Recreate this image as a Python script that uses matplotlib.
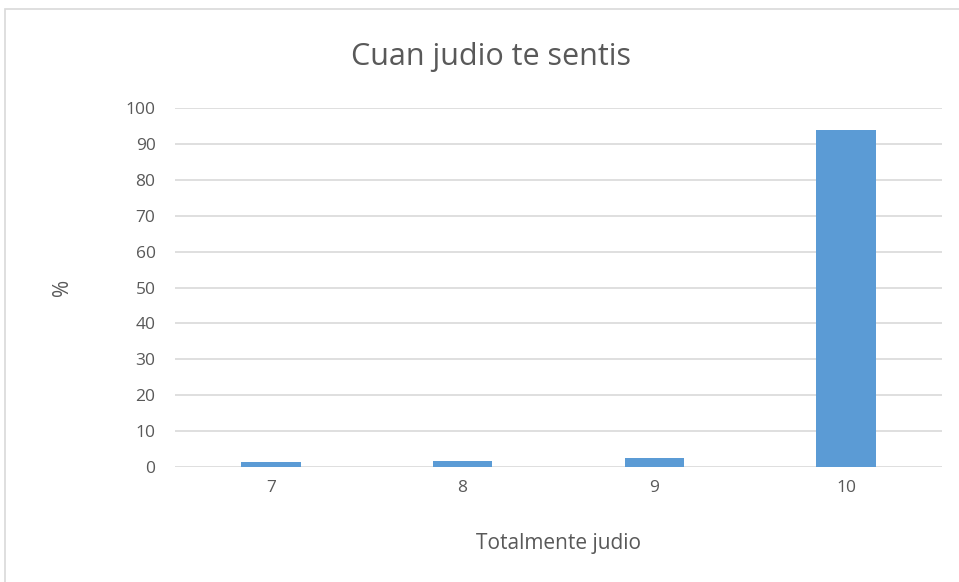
import matplotlib

matplotlib.use("Agg")
import matplotlib.pyplot as plt
from matplotlib.patches import Rectangle

categories = ["7", "8", "9", "10"]
percentages = [1.3, 1.7, 2.4, 94.0]
y_ticks = list(range(0, 101, 10))

plt.rcParams["font.family"] = ["Open Sans", "DejaVu Sans"]

fig = plt.figure(figsize=(9.59, 5.82), dpi=100)
W, H = 959, 582

# outer chart frame (cut off at the right and bottom like the screenshot)
fig.patches.append(
    Rectangle((5 / W, -0.1), 1.2, 1 - 9 / H + 0.1, transform=fig.transFigure,
              facecolor="none", edgecolor="#d9d9d9", linewidth=1.2)
)

ax = fig.add_axes([175 / W, 1 - 467 / H, (942 - 175) / W, (467 - 108) / H])
x = range(len(categories))
ax.bar(x, percentages, width=0.31, color="#5b9bd5", zorder=3)

ax.set_xlim(-0.5, len(categories) - 0.5)
ax.set_ylim(0, 100)
ax.set_yticks(y_ticks)
ax.set_xticks(list(x))
ax.set_xticklabels(categories)
ax.tick_params(axis="both", length=0, labelsize=12.5, colors="#595959", pad=9)
ax.tick_params(axis="y", pad=14)
ax.grid(axis="y", color="#d9d9d9", linewidth=1.2, zorder=0)
for side in ["top", "right", "left", "bottom"]:
    ax.spines[side].set_visible(False)

ax.set_xlabel("Totalmente judio", fontsize=15, color="#595959", labelpad=27)
ax.set_ylabel("%", fontsize=15, color="#595959", labelpad=38)
fig.text(491 / W, 1 - 57 / H, "Cuan judio te sentis", fontsize=22,
         color="#595959", ha="center", va="center")

fig.savefig("out.png", dpi=100)
